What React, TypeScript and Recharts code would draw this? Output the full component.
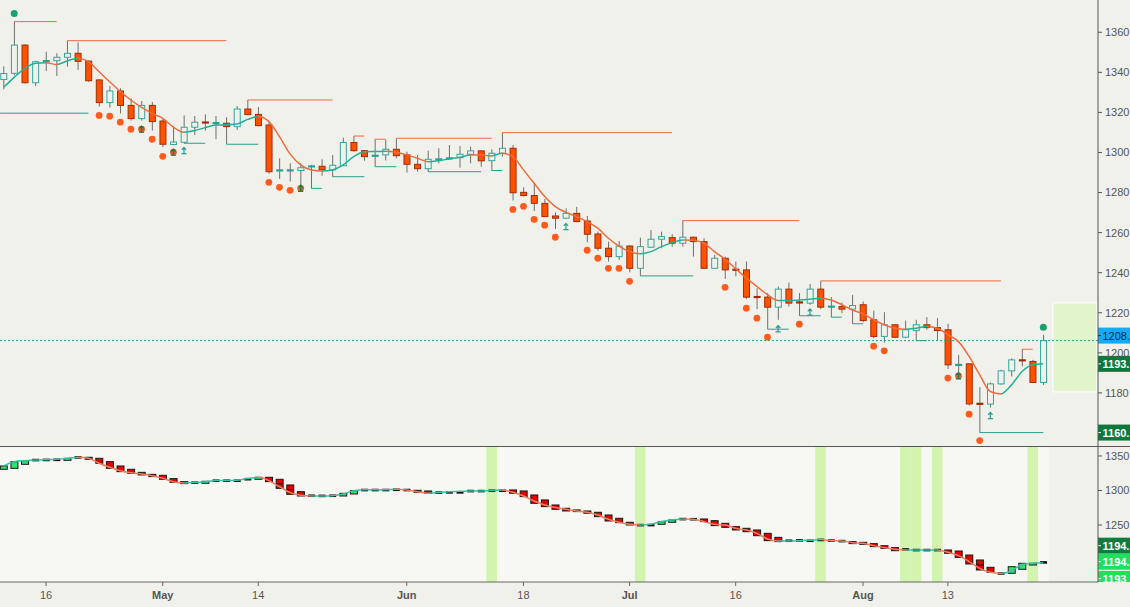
import React from "react";
import {
  Bar, ComposedChart, Line, ReferenceArea, ReferenceLine, Scatter, XAxis, YAxis, CartesianGrid
} from "recharts";

const FONT = "'Liberation Sans', Arial, sans-serif";

// daily bars, index 0 = 10 Apr
const OPEN = [1336.4, 1339.5, 1353.6, 1334.8, 1345.6, 1345.8, 1347.5, 1349.5, 1345.6, 1336.2,
  1324.9, 1330.7, 1323.5, 1316.9, 1323.5, 1315.7, 1304, 1305.1, 1312.6, 1315,
  1314.6, 1314.6, 1312.9, 1321.7, 1319, 1313.7, 1291, 1291, 1291, 1293,
  1293.1, 1291.3, 1293.4, 1305, 1300.9, 1298.3, 1298.8, 1301.6, 1298.8, 1294.1,
  1291.9, 1296.5, 1297, 1297.4, 1299.1, 1300.8, 1295.9, 1299.6, 1302.1, 1280.1,
  1278.5, 1274.6, 1268.3, 1267.2, 1269.6, 1265.8, 1259.3, 1252.2, 1248, 1253.3,
  1242.2, 1252.7, 1256.7, 1257.5, 1254.7, 1257.7, 1255.5, 1242.2, 1247.2, 1241.5,
  1241.4, 1227.9, 1227.8, 1222.8, 1231.8, 1225.2, 1224.8, 1231.8, 1223, 1223.1,
  1221.8, 1224, 1216.5, 1208.2, 1214, 1207.8, 1211.1, 1214, 1212.6, 1211.5,
  1193.9, 1194.5, 1174.6, 1174.4, 1184.5, 1191, 1196.3, 1195.7, 1185.2];
const HIGH = [1343, 1365.3, 1354, 1345.8, 1350.3, 1349.5, 1355.8, 1355, 1346, 1336.5,
  1333.2, 1332, 1327, 1325.7, 1325.2, 1317, 1313.2, 1318.5, 1318.2, 1319,
  1318.2, 1317.6, 1323.2, 1326.2, 1322.7, 1315.4, 1297.1, 1294.6, 1294.6, 1293.8,
  1296.6, 1298.8, 1307.4, 1308.2, 1301.2, 1306.6, 1306.4, 1307.1, 1300.4, 1298.8,
  1300.9, 1302.1, 1303.7, 1303.2, 1302.9, 1301, 1301.6, 1309.9, 1303.7, 1282.6,
  1284.3, 1276.8, 1270.1, 1272.1, 1272.9, 1268.3, 1260.5, 1255.5, 1255.8, 1253.8,
  1257.5, 1261.3, 1260.5, 1259.2, 1266, 1258, 1257.2, 1248.9, 1248, 1245.6,
  1245.6, 1232.3, 1229.8, 1233.1, 1235.1, 1229.8, 1234.4, 1235.9, 1227.8, 1225.1,
  1228.9, 1225.6, 1221.1, 1220.3, 1214.2, 1216.1, 1216.5, 1217.8, 1217.3, 1214.5,
  1199, 1194.7, 1182.9, 1185.2, 1191.5, 1197.3, 1201.8, 1196.5, 1209];
const LOW = [1331.5, 1338.5, 1334.5, 1333.2, 1340.7, 1338.2, 1342.8, 1341.2, 1335.3, 1322.9,
  1322.4, 1319.5, 1315.9, 1315.9, 1310.9, 1302.6, 1303.6, 1304.6, 1308.7, 1310.9,
  1306.6, 1304.2, 1311.2, 1318.6, 1313, 1289.4, 1286.8, 1285.5, 1282.6, 1282.1,
  1288.4, 1287.9, 1293.2, 1300.4, 1295.9, 1292.9, 1296, 1297.1, 1290, 1290.4,
  1290.4, 1294.6, 1296.3, 1292.4, 1294.6, 1292.9, 1291, 1297.9, 1276, 1278,
  1270.8, 1268, 1261.8, 1267, 1265.2, 1255.2, 1251, 1245.5, 1246.4, 1240.2,
  1238.4, 1252.5, 1252.2, 1253, 1253, 1248, 1242, 1242, 1236.9, 1238.2,
  1226.8, 1221.8, 1211.8, 1216.5, 1223.1, 1218.5, 1224, 1221.8, 1217.8, 1219.8,
  1214.5, 1215.3, 1207.3, 1205.1, 1207.3, 1207.3, 1206.1, 1211.5, 1206.1, 1191.9,
  1187.4, 1173.7, 1160.2, 1172.7, 1184, 1188.2, 1193.2, 1184.9, 1184];
const CLOSE = [1339.4, 1353.6, 1334.8, 1345.3, 1345.6, 1347.5, 1349.5, 1345.5, 1335.8, 1324.9,
  1330.7, 1323.5, 1316.9, 1323.5, 1315.4, 1304.1, 1305.2, 1312.6, 1315.1, 1314.9,
  1314.7, 1312.9, 1321.7, 1318.9, 1313.4, 1290.4, 1291.1, 1291.1, 1292.4, 1293.1,
  1291.4, 1293.6, 1305, 1300.9, 1297.9, 1298.4, 1301.6, 1298.4, 1294.1, 1291.9,
  1296.6, 1296.6, 1297.1, 1299.1, 1300.8, 1295.8, 1299.6, 1302.1, 1279.9, 1278.5,
  1274.6, 1268, 1267.2, 1269.6, 1265.5, 1259.2, 1252.2, 1248, 1253.3, 1242.2,
  1253, 1256.7, 1258, 1254.7, 1257.7, 1255.5, 1242.2, 1247.2, 1241.4, 1241.4,
  1227.8, 1227.8, 1222.8, 1231.8, 1224.8, 1225.1, 1231.8, 1222.8, 1223.1, 1221.8,
  1223.6, 1216.1, 1208.2, 1214, 1207.8, 1211.5, 1214, 1212.6, 1211.1, 1194,
  1194, 1174.5, 1174.5, 1184.5, 1191, 1196.5, 1196.2, 1185.2, 1206.1];
const MA = [1332.5, 1337.5, 1342, 1344.5, 1344.8, 1343.9, 1345.7, 1347, 1345.3, 1340.3,
  1335.3, 1330.4, 1326.2, 1322.5, 1319.5, 1317, 1312.6, 1310.1, 1310.9, 1312.4,
  1313.7, 1313.8, 1314.2, 1316.5, 1317.9, 1315.4, 1307.9, 1299.3, 1293.8, 1291.3,
  1290.8, 1291.3, 1293.8, 1297.9, 1300.4, 1300.5, 1300.6, 1300.1, 1298.8, 1297.1,
  1295.4, 1295.9, 1296.8, 1297.6, 1298.8, 1298.7, 1298.3, 1299.6, 1297.9, 1291.3,
  1284.6, 1278, 1273, 1270.1, 1268, 1265.5, 1262.2, 1257.2, 1253.3, 1250.5,
  1249.4, 1250.5, 1253, 1255, 1256.3, 1256.2, 1254.7, 1250.5, 1246.7, 1242,
  1237.3, 1233.1, 1229, 1226.1, 1226.1, 1226.4, 1226.8, 1227.3, 1226.4, 1224,
  1221.4, 1219.5, 1216.5, 1214, 1212.3, 1211.8, 1212.3, 1213.1, 1212.3, 1209,
  1205.6, 1198.2, 1189, 1180.7, 1179.5, 1184, 1190.7, 1194, 1194.5];

// lower panel: smoothed blocks and line
const OSC_OPEN = [1330.7, 1332.1, 1337.9, 1344.2, 1344.4, 1344.6, 1343.7, 1348.1, 1348.1, 1346.6,
  1341.8, 1335.5, 1330.7, 1326.3, 1323.4, 1322, 1317.2, 1312.8, 1311.4, 1310.4,
  1314.3, 1314.3, 1314.3, 1316.5, 1316.2, 1319.1, 1316.2, 1308, 1298.3, 1292.5,
  1292.3, 1292.5, 1292, 1294.9, 1300.8, 1300.8, 1300.8, 1301.2, 1300.8, 1300.3,
  1299.3, 1297, 1297.4, 1297.4, 1299.3, 1299.3, 1299.8, 1299.8, 1300.8, 1299.3,
  1293.5, 1286.3, 1279, 1274.2, 1271.8, 1270.3, 1268.4, 1264.5, 1259.7, 1253.9,
  1250, 1250, 1251, 1253.9, 1258.7, 1258.5, 1258.7, 1256.3, 1252.4, 1247.6,
  1245.2, 1242.8, 1237.9, 1232.1, 1227.3, 1227.8, 1227.3, 1228.5, 1227.5, 1226.8,
  1225.9, 1224.9, 1223, 1220, 1217.2, 1214.7, 1213.8, 1213.8, 1213.8, 1213.8,
  1212.3, 1206.5, 1199.3, 1188.7, 1180, 1180, 1185.8, 1192, 1195.9];
const OSC_CLOSE = [1335.5, 1341.8, 1343.2, 1344.2, 1344.4, 1344.6, 1346.6, 1348.1, 1345.2, 1339.4,
  1332.1, 1327.3, 1324.9, 1322.5, 1320.1, 1316.2, 1311.8, 1309.9, 1311.4, 1313.3,
  1314.3, 1314.3, 1314.3, 1316.5, 1319.1, 1312.8, 1303.1, 1294.4, 1292, 1292.5,
  1292.3, 1292.5, 1295.9, 1299.8, 1300.8, 1300.8, 1300.8, 1301.2, 1300.8, 1297.4,
  1296, 1297, 1297.4, 1297.4, 1299.3, 1299.3, 1299.8, 1299.8, 1296, 1291.1,
  1281.4, 1276.6, 1272.7, 1270.3, 1269.4, 1267, 1262.1, 1255.8, 1253.4, 1250,
  1250, 1250, 1254.9, 1257.3, 1258.7, 1258.5, 1254.9, 1249.1, 1246.6, 1242.8,
  1240.3, 1234.5, 1227.3, 1225.9, 1227.3, 1227.8, 1227.3, 1228.5, 1227.5, 1226.8,
  1223, 1222, 1218.6, 1216.2, 1212.8, 1214.7, 1213.8, 1213.8, 1213.8, 1209,
  1203.1, 1193.5, 1184.8, 1181.4, 1180, 1189.6, 1194.5, 1194.5, 1195.9];
const OSC_LINE = [1335.5, 1341.8, 1343.2, 1344.2, 1344.7, 1345.2, 1346.6, 1348.1, 1346.6, 1339.4,
  1333.6, 1328.7, 1325.8, 1323.9, 1321.5, 1317.6, 1312.8, 1310.9, 1311.4, 1312.8,
  1314.3, 1314.3, 1314.7, 1317.2, 1319.1, 1314.3, 1305.6, 1296.9, 1293, 1292,
  1292, 1292.5, 1294.9, 1299.8, 1301.2, 1301.2, 1301.2, 1301.7, 1300.8, 1298.3,
  1295.9, 1296.9, 1298.3, 1298.8, 1299.3, 1299.3, 1299.8, 1300.8, 1297.4, 1292.1,
  1284.8, 1279, 1275.2, 1272.7, 1270.3, 1268.4, 1264.5, 1258.2, 1253.9, 1251,
  1250, 1251, 1254.9, 1257.3, 1258.7, 1258.2, 1254.9, 1251, 1250, 1245.2,
  1242.8, 1237.9, 1229.7, 1226.8, 1226.8, 1227.3, 1227.8, 1228.8, 1227.3, 1226.8,
  1224.4, 1223.4, 1220.1, 1217.2, 1214.7, 1213.8, 1213.8, 1213.8, 1213.8, 1210.4,
  1205.6, 1196.9, 1187.2, 1181.4, 1180, 1183.3, 1193, 1194.5, 1195.4];

// stop dots under the bars, some with an arrow mark
const STOP_IDX = [9, 10, 11, 12, 13, 14, 15, 16, 25, 26, 27, 28, 48, 49, 50, 51, 52, 55, 56, 57, 58, 59, 68, 70, 71, 72, 75, 82, 83, 89, 90, 91, 92];
const STOP_VAL = [1318.5, 1318.1, 1315.1, 1311.6, 1311.6, 1306.6, 1298.1, 1300.1, 1285.1, 1282.6, 1281.1, 1282.1, 1271.6, 1273.1, 1266.6, 1263.7, 1257.7, 1251.2, 1247.2, 1242.2, 1242.2, 1235.7, 1232.7, 1222.3, 1217.3, 1207.8, 1214.3, 1203.3, 1201, 1187.4, 1188.5, 1169.4, 1156.2];
const STOP_MARKED = [13, 16, 28, 90];
const ARROW_IDX = [17, 53, 73, 76, 93];
const ARROW_VAL = [1300.9, 1263, 1212, 1220.3, 1168.7];
const SIGNAL_IDX = [1, 98];
const SIGNAL_VAL = [1369.4, 1212.8];

// [from, to, level]
const RESISTANCE = [[1, 5, 1365.3], [6, 21, 1355.8], [23, 31, 1326.2], [33, 34, 1308.2], [35, 36, 1306.6],
  [37, 46, 1307.1], [47, 63, 1309.9], [64, 75, 1266], [77, 94, 1235.9], [96, 97, 1201.8]];
const SUPPORT = [[-0.33, 8, 1319.6], [17, 19, 1304.6], [21, 24, 1304.1], [29, 30, 1282.1], [31, 34, 1287.9],
  [35, 37, 1292.9], [40, 45, 1290.4], [46, 47, 1291], [60, 65, 1238.4], [72, 74, 1211.8], [75, 77, 1218.5],
  [78, 79, 1217.8], [80, 81, 1214.5], [86, 87, 1206.1], [92, 98, 1160.2]];

const BAND_IDX = [46, 60, 77, 85, 86, 88, 97];
const ZONE_X = [98.9, 103.05];
const ZONE_Y = [1180.5, 1224.9];

const TICK_IDX = [4, 15, 24, 38, 49, 59, 69, 81, 89];
const TICK_LABELS = ["16", "May", "14", "Jun", "18", "Jul", "16", "Aug", "13"];
const PRICE_TICKS = [1180, 1200, 1220, 1240, 1260, 1280, 1300, 1320, 1340, 1360];
const OSC_TICKS = [1250, 1300, 1350];
const LAST_PRICE = 1208.6;
const LAST_CLOSE = 1206.1;

const X_DOMAIN = [-0.34, 103.15];

const rows = OPEN.map((o, i) => ({
  i, o, h: HIGH[i], l: LOW[i], c: CLOSE[i], ma: MA[i],
  oo: OSC_OPEN[i], oc: OSC_CLOSE[i], ol: OSC_LINE[i],
}));
const stops = STOP_IDX.map((i, k) => ({ i, v: STOP_VAL[k], marked: STOP_MARKED.includes(i) }));
const arrows = ARROW_IDX.map((i, k) => ({ i, v: ARROW_VAL[k] }));
const signals = SIGNAL_IDX.map((i, k) => ({ i, v: SIGNAL_VAL[k] }));

const slopeStops = (vals: number[], up: string, down: string) => {
  const n = vals.length - 1;
  const out: any[] = [];
  for (let k = 0; k < n; k++) {
    const col = vals[k + 1] >= vals[k] ? up : down;
    out.push(<stop key={`a${k}`} offset={k / n} stopColor={col} />);
    out.push(<stop key={`b${k}`} offset={(k + 1) / n} stopColor={col} />);
  }
  return out;
};

const Candle = (props: any) => {
  const { x, y, width, height, payload } = props;
  if (x == null || !payload) return null;
  const { o, h, l, c } = payload;
  const top = Math.min(y, y + height);
  const span = Math.abs(height);
  const k = span / (h - l || 1);
  const yo = top + (h - o) * k;
  const yc = top + (h - c) * k;
  const cx = x + width / 2;
  const up = c >= o;
  const bTop = Math.min(yo, yc);
  const bH = Math.abs(yo - yc);
  return (
    <g>
      <line x1={cx} x2={cx} y1={top} y2={top + span} stroke="#6e6e6e" strokeWidth={1} />
      {bH < 1.5 ? (
        <line x1={cx - 3.5} x2={cx + 3.5} y1={(yo + yc) / 2} y2={(yo + yc) / 2}
          stroke={up ? "#2a9f93" : "#a32a05"} strokeWidth={2.2} />
      ) : (
        <rect x={cx - 3} y={bTop} width={6} height={bH}
          fill={up ? "#f1f1ec" : "#ff5200"} stroke={up ? "#34a69b" : "#a22c06"} strokeWidth={1} />
      )}
    </g>
  );
};

const Block = (props: any) => {
  const { x, y, width, height, payload } = props;
  if (x == null || !payload) return null;
  const cx = x + width / 2;
  const top = Math.min(y, y + height);
  const h = Math.abs(height);
  if (h < 1.5) {
    return <rect x={cx - 3.5} y={top - 1.2} width={7} height={2.6} fill="#111" />;
  }
  const up = payload.oc > payload.oo;
  return (
    <g>
      <rect x={cx - 3.5} y={top} width={7} height={h} fill={up ? "#2ee36b" : "#e40000"} stroke="#1a1a1a" strokeWidth={1} />
      {h > 9 && <line x1={cx - 3.5} x2={cx + 3.5} y1={top + h / 2} y2={top + h / 2} stroke="#1a1a1a" strokeWidth={1} />}
    </g>
  );
};

const arrowPath = (cx: number, cy: number) =>
  `M${cx} ${cy + 3}L${cx} ${cy - 3}M${cx - 2.2} ${cy - 0.8}L${cx} ${cy - 3.2}L${cx + 2.2} ${cy - 0.8}M${cx - 2.6} ${cy + 3}L${cx + 2.6} ${cy + 3}`;

const StopDot = (props: any) => {
  const { cx, cy, payload } = props;
  if (cx == null) return null;
  return (
    <g>
      <circle cx={cx} cy={cy} r={3.4} fill={payload.marked ? "#d8642c" : "#ff5a1e"} />
      {payload.marked && <path d={arrowPath(cx, cy)} stroke="#1f7a45" strokeWidth={1.2} fill="none" />}
    </g>
  );
};

const ArrowMark = (props: any) => {
  const { cx, cy } = props;
  if (cx == null) return null;
  return <path d={arrowPath(cx, cy)} stroke="#2a9d8f" strokeWidth={1.2} fill="none" />;
};

const SignalDot = (props: any) => {
  const { cx, cy } = props;
  if (cx == null) return null;
  return <circle cx={cx} cy={cy} r={3.5} fill="#17a071" />;
};

const Tag = (props: any) => {
  const { viewBox, text, bg, fg, dy = 0, bold = false, boxH = 16, id } = props;
  if (!viewBox) return null;
  const left = viewBox.x + viewBox.width;
  const cy = viewBox.y + dy;
  return (
    <g clipPath={id ? `url(#${id})` : undefined}>
      {id && (
        <defs>
          <clipPath id={id}><rect x={left} y={cy - 8} width={40} height={boxH} /></clipPath>
        </defs>
      )}
      <rect x={left} y={cy - 8} width={40} height={boxH} fill={bg} />
      <line x1={left} x2={left + 3} y1={cy} y2={cy} stroke={fg} strokeWidth={1} />
      <text x={left + 4.5} y={cy + 4} fill={fg} fontSize={11} fontWeight={bold ? 700 : 400} fontFamily={FONT}>{text}</text>
    </g>
  );
};

const DateTick = (props: any) => {
  const { x, y, payload } = props;
  const label = TICK_LABELS[TICK_IDX.indexOf(payload.value)];
  const month = /^[A-Z]/.test(label || "");
  return (
    <text x={x} y={y + 11} textAnchor="middle" fontSize={11} fill="#555" fontWeight={month ? 700 : 400} fontFamily={FONT}>
      {label}
    </text>
  );
};

const yTick = { fontSize: 11, fill: "#555", fontFamily: FONT };

export default function App() {
  return (
    <div style={{ position: "absolute", left: 0, top: 0, width: 1130, height: 607, background: "#f1f1ec", overflow: "hidden" }}>
      <div style={{ position: "absolute", left: 0, top: 0 }}>
        <ComposedChart width={1130} height={446} data={rows} margin={{ top: 0, right: 0, bottom: 0, left: 0 }}>
          <defs>
            <linearGradient id="maGrad" x1="0" y1="0" x2="1" y2="0">
              {slopeStops(MA, "#23b096", "#f26a3b")}
            </linearGradient>
          </defs>
          <XAxis type="number" dataKey="i" domain={X_DOMAIN} allowDataOverflow hide />
          <YAxis orientation="right" width={32} domain={[1153.5, 1376.1]} allowDataOverflow ticks={PRICE_TICKS}
            tick={yTick} tickSize={4} tickMargin={3} stroke="#555" axisLine={{ stroke: "#555" }} tickLine={{ stroke: "#555" }} />
          <ReferenceArea x1={ZONE_X[0]} x2={ZONE_X[1]} y1={ZONE_Y[0]} y2={ZONE_Y[1]} fill="#e2f4cc" fillOpacity={1} stroke="#ffffff" strokeWidth={1} />
          {RESISTANCE.map(([a, b, v], k) => (
            <ReferenceLine key={`r${k}`} segment={[{ x: a, y: v }, { x: b, y: v }]} stroke="#ec6a40" strokeWidth={1} />
          ))}
          {SUPPORT.map(([a, b, v], k) => (
            <ReferenceLine key={`s${k}`} segment={[{ x: a, y: v }, { x: b, y: v }]} stroke="#2a9f8c" strokeWidth={1} />
          ))}
          <ReferenceLine y={LAST_CLOSE} stroke="#2a9d8f" strokeDasharray="2 2" strokeWidth={1} />
          <Bar dataKey={(d: any) => [d.l, d.h]} barSize={7} shape={<Candle />} isAnimationActive={false} />
          <Line type="monotone" dataKey="ma" stroke="url(#maGrad)" strokeWidth={1.5} dot={false} activeDot={false} isAnimationActive={false} />
          <Scatter data={stops} dataKey="v" shape={<StopDot />} isAnimationActive={false} />
          <Scatter data={arrows} dataKey="v" shape={<ArrowMark />} isAnimationActive={false} />
          <Scatter data={signals} dataKey="v" shape={<SignalDot />} isAnimationActive={false} />
          <ReferenceLine y={LAST_PRICE} stroke="none" label={<Tag text="1208." bg="#17a9f1" fg="#0b2a44" />} />
          <ReferenceLine y={MA[MA.length - 1]} stroke="none" label={<Tag text="1193." bg="#0a7a3a" fg="#ffffff" bold />} />
          <ReferenceLine y={1160.2} stroke="none" label={<Tag text="1160." bg="#0a7a3a" fg="#ffffff" bold />} />
        </ComposedChart>
      </div>
      <div style={{ position: "absolute", left: 0, top: 446 }}>
        <ComposedChart width={1130} height={161} data={rows} margin={{ top: 1, right: 0, bottom: 0, left: 0 }}>
          <defs>
            <linearGradient id="oscGrad" x1="0" y1="0" x2="1" y2="0">
              {slopeStops(OSC_LINE, "#3cbfa6", "#f07d5c")}
            </linearGradient>
          </defs>
          <CartesianGrid horizontal={false} vertical={false} fill="#f7f7f3" />
          <XAxis type="number" dataKey="i" domain={X_DOMAIN} allowDataOverflow ticks={TICK_IDX} interval={0}
            height={25} tickSize={4} tickMargin={2} tick={<DateTick />} axisLine={{ stroke: "#666" }} tickLine={{ stroke: "#666" }} />
          <YAxis orientation="right" width={32} domain={[1167.4, 1363]} allowDataOverflow ticks={OSC_TICKS}
            tick={yTick} tickSize={4} tickMargin={3} axisLine={{ stroke: "#555" }} tickLine={{ stroke: "#555" }} />
          <ReferenceArea x1={98.5} x2={X_DOMAIN[1]} fill="#f1f1ec" fillOpacity={1} stroke="none" />
          {BAND_IDX.map((b) => (
            <ReferenceArea key={`b${b}`} x1={b - 0.5} x2={b + 0.5} fill="#d3f4ae" fillOpacity={1} stroke="none" />
          ))}
          <Line type="monotone" dataKey="ol" stroke="url(#oscGrad)" strokeWidth={1.5} dot={false} activeDot={false} isAnimationActive={false} />
          <Bar dataKey={(d: any) => [Math.min(d.oo, d.oc), Math.max(d.oo, d.oc)]} barSize={7} shape={<Block />} isAnimationActive={false} />
          <ReferenceLine y={OSC_LINE[OSC_LINE.length - 1]} stroke="none" label={<Tag text="1194." bg="#127c3e" fg="#ffffff" dy={-17} bold />} />
          <ReferenceLine y={OSC_LINE[OSC_LINE.length - 1]} stroke="none" label={<Tag text="1194." bg="#1fe05c" fg="#ffffff" dy={-1} bold />} />
          <ReferenceLine y={OSC_LINE[OSC_LINE.length - 1]} stroke="none" label={<Tag text="1193" bg="#1fe05c" fg="#ffffff" dy={16} boxH={11.5} id="lowTagClip" bold />} />
        </ComposedChart>
      </div>
      <div style={{ position: "absolute", left: 0, top: 446, width: 1130, height: 1, background: "#555" }} />
    </div>
  );
}
